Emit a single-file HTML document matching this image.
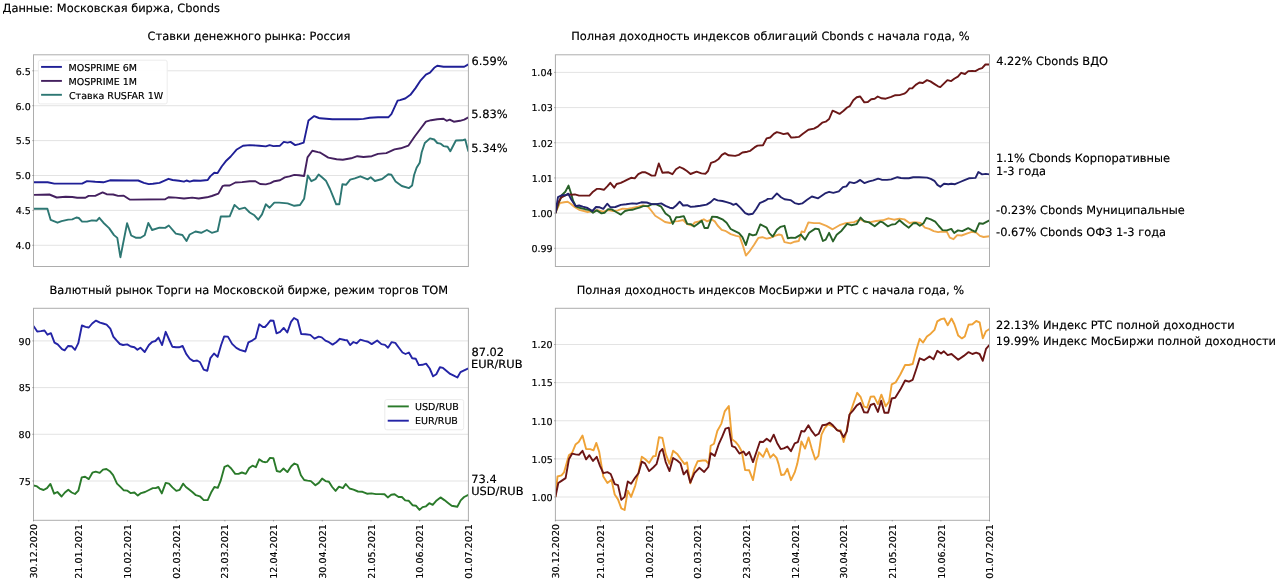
<!DOCTYPE html>
<html><head><meta charset="utf-8"><style>
html,body{margin:0;padding:0;background:#fff;}
svg{display:block;font-family:'DejaVu Sans', 'Liberation Sans', sans-serif;text-rendering:geometricPrecision;} text{stroke:none;}
</style></head><body>
<svg width="1280" height="580" viewBox="0 0 1280 580">
<defs><clipPath id="cTL"><rect x="33.5" y="54.8" width="434.90" height="211.70"/></clipPath><clipPath id="cTR"><rect x="555.4" y="54.8" width="434.10" height="211.70"/></clipPath><clipPath id="cBL"><rect x="33.5" y="308.3" width="434.90" height="212.00"/></clipPath><clipPath id="cBR"><rect x="555.4" y="308.3" width="434.10" height="212.00"/></clipPath><filter id="bold" x="0" y="0" width="1280" height="580" filterUnits="userSpaceOnUse" color-interpolation-filters="sRGB"><feComponentTransfer><feFuncA type="gamma" amplitude="1" exponent="0.7" offset="0"/></feComponentTransfer></filter></defs>
<rect width="1280" height="580" fill="#fff"/>
<line x1="33.5" y1="245.30" x2="468.4" y2="245.30" stroke="#e2e2e2" stroke-width="0.95"/>
<line x1="33.5" y1="210.40" x2="468.4" y2="210.40" stroke="#e2e2e2" stroke-width="0.95"/>
<line x1="33.5" y1="175.50" x2="468.4" y2="175.50" stroke="#e2e2e2" stroke-width="0.95"/>
<line x1="33.5" y1="140.60" x2="468.4" y2="140.60" stroke="#e2e2e2" stroke-width="0.95"/>
<line x1="33.5" y1="105.70" x2="468.4" y2="105.70" stroke="#e2e2e2" stroke-width="0.95"/>
<line x1="33.5" y1="70.80" x2="468.4" y2="70.80" stroke="#e2e2e2" stroke-width="0.95"/>
<line x1="555.4" y1="248.30" x2="989.5" y2="248.30" stroke="#e2e2e2" stroke-width="0.95"/>
<line x1="555.4" y1="213.12" x2="989.5" y2="213.12" stroke="#e2e2e2" stroke-width="0.95"/>
<line x1="555.4" y1="177.94" x2="989.5" y2="177.94" stroke="#e2e2e2" stroke-width="0.95"/>
<line x1="555.4" y1="142.76" x2="989.5" y2="142.76" stroke="#e2e2e2" stroke-width="0.95"/>
<line x1="555.4" y1="107.58" x2="989.5" y2="107.58" stroke="#e2e2e2" stroke-width="0.95"/>
<line x1="555.4" y1="72.40" x2="989.5" y2="72.40" stroke="#e2e2e2" stroke-width="0.95"/>
<line x1="33.5" y1="481.00" x2="468.4" y2="481.00" stroke="#e2e2e2" stroke-width="0.95"/>
<line x1="33.5" y1="434.30" x2="468.4" y2="434.30" stroke="#e2e2e2" stroke-width="0.95"/>
<line x1="33.5" y1="387.60" x2="468.4" y2="387.60" stroke="#e2e2e2" stroke-width="0.95"/>
<line x1="33.5" y1="340.90" x2="468.4" y2="340.90" stroke="#e2e2e2" stroke-width="0.95"/>
<line x1="555.4" y1="497.00" x2="989.5" y2="497.00" stroke="#e2e2e2" stroke-width="0.95"/>
<line x1="555.4" y1="458.87" x2="989.5" y2="458.87" stroke="#e2e2e2" stroke-width="0.95"/>
<line x1="555.4" y1="420.75" x2="989.5" y2="420.75" stroke="#e2e2e2" stroke-width="0.95"/>
<line x1="555.4" y1="382.63" x2="989.5" y2="382.63" stroke="#e2e2e2" stroke-width="0.95"/>
<line x1="555.4" y1="344.50" x2="989.5" y2="344.50" stroke="#e2e2e2" stroke-width="0.95"/>
<g clip-path="url(#cTL)">
<polyline points="33.5,182.3 47.7,182.3 54.3,183.6 82.1,183.6 87.0,181.1 95.2,181.8 103.4,182.3 110.0,180.3 130.0,180.5 138.2,180.5 143.9,182.9 148.8,184.1 152.9,183.7 159.5,182.9 168.5,178.8 172.6,180.0 179.1,180.8 184.0,181.6 186.5,180.5 189.7,181.6 193.8,180.5 200.4,180.8 207.7,180.0 210.2,176.4 214.3,172.8 217.6,173.1 221.7,166.5 225.7,161.3 230.7,156.5 236.4,149.8 243.0,145.7 249.7,145.1 259.2,145.7 265.8,146.4 269.6,145.1 273.4,146.1 280.0,145.7 283.8,141.9 287.6,142.6 290.5,141.9 295.2,145.1 299.0,144.2 303.7,142.6 308.5,120.4 314.2,116.1 318.9,118.0 320.0,118.3 332.4,119.3 344.8,119.3 357.3,119.3 363.5,118.9 369.7,117.7 378.0,117.3 388.3,117.3 391.4,114.2 397.6,100.7 400.0,100.1 405.2,98.5 410.4,94.8 415.5,88.1 420.7,80.3 425.9,74.7 430.0,72.6 434.2,67.8 437.3,65.8 443.5,66.8 453.8,66.8 464.2,66.8 468.4,64.4" fill="none" stroke="#1f1f96" stroke-width="1.9" stroke-linejoin="round" stroke-linecap="butt"/>
</g>
<g clip-path="url(#cTL)">
<polyline points="33.5,194.9 49.4,194.5 56.7,197.5 65.7,196.7 72.3,197.0 77.2,197.8 85.4,197.8 88.6,195.9 95.2,195.9 102.6,192.4 106.6,194.2 113.2,194.5 118.1,195.9 123.8,195.7 129.6,199.5 133.0,199.6 165.2,199.3 168.5,197.2 175.8,197.6 184.0,198.5 192.2,197.6 198.7,198.5 206.9,197.3 211.8,196.0 218.4,193.6 222.5,186.2 224.9,185.4 229.7,185.5 235.4,182.5 242.1,182.1 249.7,181.2 255.4,181.2 260.1,184.0 265.8,184.4 270.5,183.1 274.3,181.2 280.0,180.2 284.8,177.4 289.5,176.4 294.3,174.9 299.0,175.3 304.1,176.0 307.5,157.4 312.3,150.8 318.0,152.1 320.0,152.5 328.3,157.6 336.6,159.3 342.8,159.7 351.1,158.3 357.3,156.2 363.5,157.0 371.8,156.2 378.0,153.9 386.3,153.1 394.5,149.4 400.7,148.3 408.3,145.7 414.5,136.8 420.7,128.5 425.9,121.7 431.1,120.2 437.3,119.2 443.5,118.8 446.6,120.8 449.7,119.6 453.8,121.7 460.0,120.8 464.2,119.6 468.4,117.4" fill="none" stroke="#44205f" stroke-width="1.9" stroke-linejoin="round" stroke-linecap="butt"/>
</g>
<g clip-path="url(#cTL)">
<polyline points="33.5,208.8 47.4,208.8 50.7,219.9 57.5,222.7 61.6,221.1 68.2,219.6 72.3,219.4 76.4,217.5 78.8,218.0 82.1,221.6 87.0,221.6 91.9,220.4 96.8,220.7 99.3,217.8 103.4,222.7 109.1,228.1 114.0,235.1 117.3,237.9 120.4,257.2 127.1,223.2 131.2,235.5 135.7,237.7 140.6,237.7 144.7,235.3 148.3,223.0 152.1,230.0 159.5,227.6 165.2,227.9 168.8,225.5 175.8,233.6 182.4,235.0 186.5,241.0 189.7,234.5 195.5,231.5 201.2,232.8 206.9,230.0 211.8,232.8 217.6,231.2 220.8,216.5 226.6,216.5 229.7,216.3 234.5,204.9 239.2,209.1 244.9,207.7 249.7,212.5 254.4,215.3 258.2,219.7 262.0,214.4 265.8,204.3 269.6,207.7 274.3,202.6 279.1,202.6 287.6,203.4 294.3,205.8 300.0,205.0 304.1,198.8 307.8,175.5 311.4,181.2 315.5,179.1 318.6,174.5 321.7,177.1 325.9,180.7 330.0,189.0 333.1,196.7 336.2,204.3 339.3,204.3 342.4,184.3 346.0,184.8 350.2,179.7 354.8,178.4 360.4,176.3 367.6,179.4 370.7,177.3 374.9,181.0 382.1,179.0 388.3,174.2 391.4,174.8 395.6,181.4 401.8,186.0 409.0,188.1 412.1,185.6 414.1,175.0 416.6,167.8 419.7,162.7 421.7,152.3 424.8,143.0 430.0,138.4 434.2,139.5 437.3,143.0 440.4,143.6 443.5,146.1 447.6,146.7 450.3,151.3 455.9,140.5 462.1,140.3 465.2,139.5 468.4,151.6" fill="none" stroke="#2d7773" stroke-width="1.9" stroke-linejoin="round" stroke-linecap="butt"/>
</g>
<g clip-path="url(#cTR)">
<polyline points="555.4,213.1 559.8,203.1 564.1,202.2 567.7,201.7 570.7,203.7 574.9,207.3 579.1,209.8 584.0,211.0 587.6,212.2 592.4,211.0 597.3,210.1 603.3,211.6 608.1,210.1 613.0,211.0 617.8,210.4 622.6,208.6 627.4,208.9 632.3,208.0 638.3,206.7 643.1,205.3 648.0,206.7 651.6,211.0 655.2,215.8 660.0,218.8 665.0,222.0 670.0,223.0 674.1,221.4 678.3,221.1 683.1,220.0 687.2,224.1 692.1,225.5 694.8,222.5 699.0,221.4 703.8,219.3 707.2,221.4 711.4,219.3 714.8,221.4 717.6,225.5 721.7,229.9 725.2,230.8 730.7,234.1 736.2,235.9 739.7,236.6 743.1,246.2 745.9,255.6 749.3,251.7 754.1,244.8 758.3,237.9 762.4,237.2 766.6,238.6 770.7,237.7 774.8,235.9 779.0,234.5 781.7,235.2 784.5,242.1 790.5,243.4 794.7,241.7 798.8,241.0 801.6,231.4 804.3,232.1 808.4,222.4 814.0,223.1 819.5,223.1 826.4,225.9 832.6,229.3 839.5,225.2 845.7,223.1 854.0,222.1 860.2,219.4 865.0,221.7 870.5,222.1 876.0,221.0 882.9,220.3 888.4,218.3 894.0,219.7 899.5,218.6 904.4,219.4 909.5,223.0 914.7,222.3 920.5,223.0 924.9,227.7 929.3,228.9 933.7,231.1 938.1,232.1 942.5,231.5 946.9,231.8 949.8,237.7 953.5,239.2 957.2,235.1 961.6,235.5 967.4,233.3 971.8,231.8 976.2,232.6 979.9,235.9 983.6,237.0 989.5,236.2" fill="none" stroke="#efa84a" stroke-width="1.9" stroke-linejoin="round" stroke-linecap="butt"/>
</g>
<g clip-path="url(#cTR)">
<polyline points="555.4,213.1 558.6,203.1 562.2,194.7 565.3,191.7 568.5,185.6 570.7,192.3 573.1,200.7 576.1,206.7 580.4,208.0 585.2,209.2 589.4,210.1 593.0,212.8 596.7,210.4 601.5,213.4 604.5,212.8 608.1,209.2 611.7,209.4 616.6,212.2 620.8,214.6 625.0,211.0 628.6,210.1 632.3,209.8 635.9,208.6 639.5,207.7 643.1,206.1 648.0,206.1 651.6,204.3 656.4,204.3 661.2,206.7 665.5,213.4 669.7,216.4 672.8,223.9 676.2,217.2 679.7,217.0 683.8,216.1 687.2,223.9 690.7,224.1 694.1,226.6 697.6,224.1 701.7,220.7 704.5,228.0 707.9,228.0 712.1,216.6 716.9,217.0 722.4,219.3 726.6,222.8 730.7,229.0 733.4,230.3 739.0,233.1 742.4,237.2 745.9,245.1 749.3,233.8 752.8,235.4 756.2,234.5 760.3,224.4 766.6,227.6 769.3,233.1 772.8,236.6 776.9,229.7 780.3,226.9 784.5,225.8 787.8,238.3 791.2,237.6 795.3,237.9 800.9,234.6 805.0,239.7 809.1,232.8 815.3,228.6 818.8,229.3 822.9,241.0 825.7,239.7 829.1,232.8 833.0,241.4 836.7,234.8 841.6,230.7 847.1,223.8 851.2,225.2 856.7,224.1 860.6,217.6 864.3,221.3 869.1,222.4 874.7,226.3 880.2,221.7 882.9,222.4 887.8,226.3 891.9,224.5 895.3,224.1 899.5,220.3 904.4,224.5 908.8,227.7 913.2,223.3 916.1,223.0 919.8,225.7 923.5,223.3 926.4,217.9 930.8,219.4 935.2,221.6 938.8,226.0 942.5,230.1 946.9,230.4 951.3,228.9 954.2,233.0 957.9,230.4 962.3,231.1 968.2,228.2 971.8,230.1 975.5,231.8 979.2,223.3 982.8,223.8 986.5,221.9 989.5,220.4" fill="none" stroke="#276127" stroke-width="1.9" stroke-linejoin="round" stroke-linecap="butt"/>
</g>
<g clip-path="url(#cTR)">
<polyline points="555.4,213.1 558.0,203.1 561.0,197.7 564.7,195.6 568.3,194.4 571.9,194.7 574.9,194.4 579.1,195.6 584.0,195.6 589.4,195.6 592.4,192.3 596.7,188.9 599.7,188.9 603.9,189.8 607.5,186.2 610.3,182.8 614.2,187.7 616.6,184.0 620.8,182.8 624.4,181.1 627.4,179.6 631.1,177.8 634.7,178.4 638.3,174.1 641.9,172.3 644.9,172.1 648.6,173.9 651.6,175.6 655.2,175.6 658.8,163.5 662.4,172.7 668.5,172.3 672.4,174.2 676.0,169.2 679.7,167.0 683.3,168.6 686.9,171.0 690.5,174.0 696.6,171.6 701.4,173.4 705.6,173.7 708.0,171.0 711.0,162.9 714.7,161.7 718.3,159.3 721.9,154.9 724.9,153.2 728.6,155.3 735.2,155.9 738.8,154.9 742.4,152.5 747.3,151.7 750.3,150.8 754.5,147.4 757.5,145.6 763.0,145.3 766.6,138.4 770.2,137.5 773.8,133.9 776.8,132.1 779.9,132.9 783.5,134.1 787.8,133.2 791.2,137.6 795.3,137.3 798.8,136.9 802.9,133.7 808.4,129.7 814.0,128.6 818.1,126.3 822.2,122.7 825.7,121.7 829.1,119.0 832.6,110.7 836.0,112.1 839.5,113.9 843.6,110.7 847.1,107.5 849.8,106.1 853.3,100.3 856.7,97.3 860.2,96.5 864.3,102.4 867.8,102.0 871.2,99.2 874.7,98.7 877.7,96.5 881.6,98.3 885.7,98.7 891.2,96.9 895.3,95.2 899.5,95.1 904.3,93.7 906.6,92.0 909.5,88.4 912.3,88.2 915.7,84.9 919.4,82.5 922.8,83.0 927.0,80.1 930.4,81.4 934.2,83.9 938.0,86.3 940.3,87.1 943.6,83.9 947.4,80.1 951.2,81.1 954.6,78.5 957.9,76.6 961.2,72.8 965.0,74.0 968.3,71.1 972.1,70.9 975.4,71.1 978.7,69.2 982.1,68.1 985.4,64.5 989.5,64.5" fill="none" stroke="#6b1717" stroke-width="1.9" stroke-linejoin="round" stroke-linecap="butt"/>
</g>
<g clip-path="url(#cTR)">
<polyline points="555.4,213.1 558.0,197.1 561.6,195.3 565.3,195.3 568.3,193.7 571.3,199.5 575.5,206.1 579.1,205.5 582.8,206.7 587.6,208.0 592.4,211.0 596.0,207.0 599.7,207.3 603.3,208.9 607.2,203.7 610.5,207.3 615.4,207.0 620.8,204.9 626.2,204.3 632.3,203.4 637.1,203.7 641.3,202.3 646.8,202.5 651.6,204.1 656.4,204.1 661.2,203.4 665.5,205.8 669.7,207.7 672.8,208.3 676.2,205.5 679.7,201.7 683.1,205.5 687.2,205.2 690.7,206.9 694.8,206.5 700.3,205.8 706.6,204.6 710.7,202.1 714.1,198.9 717.6,200.4 722.4,201.0 726.6,202.1 730.7,203.4 733.4,204.8 736.2,203.7 740.3,207.6 745.2,213.1 748.6,214.5 752.8,213.8 756.2,209.0 759.7,203.2 765.2,200.7 767.9,198.9 772.1,198.6 776.9,193.4 781.0,197.2 784.5,199.3 790.5,200.1 794.7,203.1 798.8,204.2 802.2,203.4 807.1,199.7 811.9,196.5 818.1,198.3 825.0,193.4 829.1,191.8 833.3,192.8 838.8,191.4 842.9,187.2 846.4,186.3 849.6,182.1 854.0,183.1 856.7,182.1 860.2,179.9 864.3,183.1 869.1,181.3 873.3,180.3 878.1,178.6 881.6,179.7 887.1,179.9 891.2,179.4 897.4,177.2 900.9,178.0 904.4,178.3 908.8,178.3 913.2,177.3 919.1,177.3 927.1,177.6 930.8,178.8 934.4,180.8 937.4,184.9 940.3,186.8 944.0,183.7 948.4,184.2 951.3,183.7 955.0,184.2 960.1,182.0 964.5,180.2 968.9,178.3 975.5,177.9 978.4,172.0 982.1,174.4 985.8,173.9 989.5,174.4" fill="none" stroke="#22226e" stroke-width="1.9" stroke-linejoin="round" stroke-linecap="butt"/>
</g>
<g clip-path="url(#cBL)">
<polyline points="33.5,485.5 36.4,486.1 39.7,488.6 43.6,490.0 47.0,488.1 50.4,483.9 54.1,493.7 57.4,492.0 61.6,496.5 64.9,492.5 68.3,489.7 71.7,492.5 75.0,494.0 78.4,490.6 81.7,477.4 85.1,476.8 88.8,479.1 92.4,472.7 95.7,471.6 99.7,472.9 103.0,469.6 106.4,469.0 109.8,471.2 113.1,475.2 117.0,483.6 120.4,486.9 123.8,490.3 127.1,490.6 130.5,493.1 134.4,492.5 137.8,495.6 141.1,493.1 145.0,492.0 149.0,490.0 152.8,488.1 155.6,488.1 158.4,487.0 161.8,493.4 165.7,482.9 169.0,483.7 172.4,487.4 176.3,490.9 179.7,489.8 183.1,483.7 185.9,487.0 189.2,489.6 192.6,492.3 195.9,495.2 199.9,496.3 203.8,500.1 207.7,500.1 211.1,492.6 214.4,487.0 217.8,487.8 220.6,480.9 224.5,466.8 227.9,465.4 231.2,468.5 235.2,473.9 238.5,473.9 241.9,472.5 245.8,473.9 249.2,468.0 252.5,465.7 255.9,467.2 259.2,459.3 262.6,461.6 265.5,462.2 267.2,461.8 270.0,457.9 273.4,458.2 276.8,471.0 280.1,471.9 283.5,468.5 287.4,472.1 291.3,466.3 294.4,463.5 297.5,464.9 300.9,475.3 304.2,480.0 307.6,480.6 310.9,481.1 315.4,485.3 318.8,482.9 322.1,478.6 325.5,481.1 328.9,481.8 332.2,487.0 335.6,490.9 339.0,486.7 342.9,488.1 345.7,484.0 349.6,488.5 353.5,489.6 358.0,491.5 362.5,491.8 367.0,493.7 371.4,493.4 375.9,494.1 380.2,494.1 384.5,494.2 387.8,497.4 391.2,494.8 394.6,494.2 398.5,497.0 401.9,497.0 405.2,500.4 408.6,500.7 412.5,505.2 415.9,505.7 419.5,509.9 422.6,507.1 426.0,506.3 429.3,503.2 432.7,504.9 436.6,500.4 440.5,497.4 444.4,500.1 448.4,503.2 451.7,505.7 457.3,506.8 460.7,500.4 464.1,497.0 468.4,494.8" fill="none" stroke="#2a7a2a" stroke-width="1.9" stroke-linejoin="round" stroke-linecap="butt"/>
</g>
<g clip-path="url(#cBL)">
<polyline points="33.5,325.9 37.2,331.5 40.8,331.1 44.5,330.5 47.5,334.7 50.9,333.2 54.5,342.6 57.7,344.4 62.0,349.2 64.6,350.4 68.0,346.0 71.6,346.2 75.0,349.8 78.3,343.2 81.9,325.5 85.5,326.9 88.8,327.5 92.2,323.5 96.0,320.6 100.0,322.7 103.0,323.5 106.6,324.7 110.3,328.7 113.3,336.6 116.3,340.2 119.9,344.0 123.0,345.0 127.2,344.4 130.8,346.5 134.4,347.2 137.4,349.8 140.4,347.7 144.7,352.0 148.9,345.0 152.4,341.8 155.4,341.0 158.5,337.6 162.1,345.1 165.7,331.8 169.3,340.0 172.3,346.7 176.0,347.3 179.0,347.3 182.6,346.0 186.2,353.9 189.8,358.7 193.5,361.1 197.1,360.5 200.1,362.3 203.7,369.6 207.3,370.8 210.4,358.1 214.0,353.5 217.6,356.9 221.2,344.8 224.2,336.4 227.9,336.6 232.1,343.9 236.3,347.9 239.9,349.9 245.4,351.5 248.4,342.4 252.6,340.3 255.6,338.2 259.3,324.3 262.9,327.0 265.0,327.0 267.4,324.3 270.4,320.5 273.5,320.7 276.5,333.4 280.1,331.8 283.7,327.9 287.3,332.5 291.0,321.9 294.0,318.0 297.6,320.1 301.2,334.0 305.4,334.2 310.3,334.9 314.5,338.6 318.7,336.6 321.7,337.4 325.4,340.6 329.0,342.2 332.6,344.6 336.2,342.2 339.9,338.8 344.7,340.0 347.1,340.3 350.1,345.1 353.4,342.0 356.7,343.4 360.3,339.6 364.5,340.9 368.1,341.7 371.7,344.1 377.2,340.5 381.4,344.1 385.0,344.9 388.0,347.7 391.7,342.1 395.3,342.9 398.9,347.7 402.5,352.5 405.5,354.0 408.9,352.5 412.2,358.2 415.8,358.8 418.8,365.1 422.4,364.8 426.1,363.6 429.7,368.5 433.1,376.3 436.3,374.3 439.9,367.3 443.0,367.9 446.6,370.9 450.2,373.9 453.8,375.7 457.4,377.5 460.5,372.1 464.1,370.3 468.4,368.4" fill="none" stroke="#2424a6" stroke-width="1.9" stroke-linejoin="round" stroke-linecap="butt"/>
</g>
<g clip-path="url(#cBR)">
<polyline points="555.4,497.0 557.5,476.5 561.5,475.3 564.0,472.4 568.9,455.2 572.2,452.7 575.5,444.6 578.7,442.1 582.5,435.6 586.1,449.1 590.2,449.1 593.5,450.3 596.3,442.9 599.2,451.9 603.3,476.5 607.4,483.0 611.5,479.7 614.7,494.5 618.0,499.4 621.3,508.4 624.6,510.0 627.8,490.7 631.1,496.9 635.2,485.8 638.5,472.4 641.8,456.8 645.0,459.0 649.1,462.9 653.2,456.3 655.7,456.0 659.0,437.2 662.4,437.9 665.7,453.9 669.5,463.8 673.1,450.7 677.2,453.9 681.3,459.7 684.6,464.1 687.0,462.4 690.3,483.4 694.4,468.7 697.6,461.3 702.6,460.5 705.8,460.5 708.8,463.8 710.7,445.7 714.0,443.8 717.3,431.0 721.4,423.6 724.7,411.4 728.8,406.1 732.0,439.2 735.3,441.7 738.6,445.7 741.8,451.5 745.1,470.0 749.2,470.3 753.0,480.1 756.6,460.5 759.0,452.3 763.1,456.9 766.7,448.6 770.3,457.7 773.4,454.3 776.6,457.9 778.6,464.1 781.2,475.0 784.3,474.5 787.4,468.8 791.0,480.2 794.7,472.4 797.2,464.1 799.3,453.8 801.4,441.4 805.0,448.6 808.6,437.4 811.7,448.6 815.3,459.5 818.4,455.9 821.5,434.7 824.7,428.1 828.0,424.3 831.3,425.7 834.6,427.3 837.8,430.6 840.6,430.2 843.6,442.0 846.4,432.0 849.5,415.3 852.9,405.0 857.2,392.8 860.7,397.2 864.1,406.7 867.2,407.6 870.6,396.8 874.1,396.4 877.9,404.1 881.4,394.7 885.7,406.3 889.1,401.6 891.7,384.3 895.6,382.4 900.3,374.5 905.1,365.0 908.9,365.0 912.7,364.0 916.4,349.8 919.7,338.8 923.1,342.6 926.9,336.5 930.7,333.7 934.5,329.9 937.3,321.4 941.1,319.1 944.3,318.5 947.7,325.2 951.5,318.5 954.4,324.2 958.2,335.6 961.9,338.4 964.8,336.5 968.6,324.8 972.4,324.2 976.2,321.0 979.6,322.3 982.8,338.4 986.0,331.2 989.5,329.0" fill="none" stroke="#efa236" stroke-width="1.9" stroke-linejoin="round" stroke-linecap="butt"/>
</g>
<g clip-path="url(#cBR)">
<polyline points="555.4,497.0 558.3,483.0 561.5,480.9 565.6,478.1 568.9,459.3 572.2,453.6 575.5,454.4 579.2,454.7 582.5,450.8 586.1,459.3 589.4,455.2 593.0,460.9 596.7,456.8 600.0,465.8 603.3,473.2 607.4,472.1 610.7,474.0 614.7,484.2 618.0,485.1 621.3,499.9 624.6,496.9 627.8,481.4 631.1,483.8 635.2,477.6 638.5,473.2 641.8,461.7 645.0,463.4 649.1,471.1 653.2,467.5 656.5,464.2 659.8,451.9 662.5,449.0 665.7,462.1 669.5,471.1 673.1,458.0 677.2,460.5 680.5,463.4 683.7,474.4 687.0,470.3 690.3,482.6 694.4,473.2 699.3,467.8 704.2,471.9 708.3,467.0 710.7,453.1 714.8,455.9 718.9,443.8 722.2,436.7 725.5,428.6 728.8,427.7 732.0,446.1 735.3,447.4 739.4,453.6 743.5,451.5 745.9,455.2 749.2,452.0 753.0,462.1 756.6,451.5 759.9,441.7 763.1,442.0 766.7,438.8 770.3,441.6 773.7,434.7 777.1,442.9 780.7,449.1 783.8,448.4 787.4,446.6 791.0,451.2 794.7,443.4 797.8,442.2 801.4,431.0 804.5,431.6 808.4,425.3 811.7,430.9 815.4,435.8 818.7,433.8 822.3,425.3 825.9,424.8 829.7,422.7 832.9,425.3 837.0,430.2 840.3,431.4 843.6,437.1 846.8,431.4 849.5,414.5 852.9,410.6 856.8,405.4 860.3,403.1 864.1,412.3 867.6,412.6 870.6,405.0 874.1,403.7 877.9,411.9 881.2,400.7 884.4,412.8 888.3,412.8 891.7,398.5 895.2,397.7 900.3,389.6 905.1,380.5 908.9,381.7 912.7,379.8 916.4,368.8 919.7,358.3 924.0,360.2 929.7,356.4 933.5,359.3 937.3,350.8 941.1,353.6 943.9,351.3 947.7,355.1 951.5,354.0 958.2,359.7 963.8,355.9 968.6,352.1 972.4,354.0 976.2,352.7 979.6,354.0 982.8,360.8 986.0,348.9 989.5,345.0" fill="none" stroke="#6b1515" stroke-width="1.9" stroke-linejoin="round" stroke-linecap="butt"/>
</g>
<rect x="33.5" y="54.8" width="434.90" height="211.70" fill="none" stroke="#adadad" stroke-width="1"/>
<rect x="555.4" y="54.8" width="434.10" height="211.70" fill="none" stroke="#adadad" stroke-width="1"/>
<rect x="33.5" y="308.3" width="434.90" height="212.00" fill="none" stroke="#adadad" stroke-width="1"/>
<rect x="555.4" y="308.3" width="434.10" height="212.00" fill="none" stroke="#adadad" stroke-width="1"/>
<line x1="32.50" y1="245.30" x2="33.50" y2="245.30" stroke="#777" stroke-width="0.9"/>
<line x1="32.50" y1="210.40" x2="33.50" y2="210.40" stroke="#777" stroke-width="0.9"/>
<line x1="32.50" y1="175.50" x2="33.50" y2="175.50" stroke="#777" stroke-width="0.9"/>
<line x1="32.50" y1="140.60" x2="33.50" y2="140.60" stroke="#777" stroke-width="0.9"/>
<line x1="32.50" y1="105.70" x2="33.50" y2="105.70" stroke="#777" stroke-width="0.9"/>
<line x1="32.50" y1="70.80" x2="33.50" y2="70.80" stroke="#777" stroke-width="0.9"/>
<line x1="554.40" y1="248.30" x2="555.40" y2="248.30" stroke="#777" stroke-width="0.9"/>
<line x1="554.40" y1="213.12" x2="555.40" y2="213.12" stroke="#777" stroke-width="0.9"/>
<line x1="554.40" y1="177.94" x2="555.40" y2="177.94" stroke="#777" stroke-width="0.9"/>
<line x1="554.40" y1="142.76" x2="555.40" y2="142.76" stroke="#777" stroke-width="0.9"/>
<line x1="554.40" y1="107.58" x2="555.40" y2="107.58" stroke="#777" stroke-width="0.9"/>
<line x1="554.40" y1="72.40" x2="555.40" y2="72.40" stroke="#777" stroke-width="0.9"/>
<line x1="32.50" y1="481.00" x2="33.50" y2="481.00" stroke="#777" stroke-width="0.9"/>
<line x1="32.50" y1="434.30" x2="33.50" y2="434.30" stroke="#777" stroke-width="0.9"/>
<line x1="32.50" y1="387.60" x2="33.50" y2="387.60" stroke="#777" stroke-width="0.9"/>
<line x1="32.50" y1="340.90" x2="33.50" y2="340.90" stroke="#777" stroke-width="0.9"/>
<line x1="554.40" y1="497.00" x2="555.40" y2="497.00" stroke="#777" stroke-width="0.9"/>
<line x1="554.40" y1="458.87" x2="555.40" y2="458.87" stroke="#777" stroke-width="0.9"/>
<line x1="554.40" y1="420.75" x2="555.40" y2="420.75" stroke="#777" stroke-width="0.9"/>
<line x1="554.40" y1="382.63" x2="555.40" y2="382.63" stroke="#777" stroke-width="0.9"/>
<line x1="554.40" y1="344.50" x2="555.40" y2="344.50" stroke="#777" stroke-width="0.9"/>
<line x1="33.50" y1="520.30" x2="33.50" y2="521.30" stroke="#777" stroke-width="0.9"/>
<line x1="78.73" y1="520.30" x2="78.73" y2="521.30" stroke="#777" stroke-width="0.9"/>
<line x1="127.44" y1="520.30" x2="127.44" y2="521.30" stroke="#777" stroke-width="0.9"/>
<line x1="176.15" y1="520.30" x2="176.15" y2="521.30" stroke="#777" stroke-width="0.9"/>
<line x1="224.86" y1="520.30" x2="224.86" y2="521.30" stroke="#777" stroke-width="0.9"/>
<line x1="273.56" y1="520.30" x2="273.56" y2="521.30" stroke="#777" stroke-width="0.9"/>
<line x1="322.27" y1="520.30" x2="322.27" y2="521.30" stroke="#777" stroke-width="0.9"/>
<line x1="370.98" y1="520.30" x2="370.98" y2="521.30" stroke="#777" stroke-width="0.9"/>
<line x1="419.69" y1="520.30" x2="419.69" y2="521.30" stroke="#777" stroke-width="0.9"/>
<line x1="468.40" y1="520.30" x2="468.40" y2="521.30" stroke="#777" stroke-width="0.9"/>
<line x1="555.40" y1="520.30" x2="555.40" y2="521.30" stroke="#777" stroke-width="0.9"/>
<line x1="600.55" y1="520.30" x2="600.55" y2="521.30" stroke="#777" stroke-width="0.9"/>
<line x1="649.17" y1="520.30" x2="649.17" y2="521.30" stroke="#777" stroke-width="0.9"/>
<line x1="697.78" y1="520.30" x2="697.78" y2="521.30" stroke="#777" stroke-width="0.9"/>
<line x1="746.40" y1="520.30" x2="746.40" y2="521.30" stroke="#777" stroke-width="0.9"/>
<line x1="795.02" y1="520.30" x2="795.02" y2="521.30" stroke="#777" stroke-width="0.9"/>
<line x1="843.64" y1="520.30" x2="843.64" y2="521.30" stroke="#777" stroke-width="0.9"/>
<line x1="892.26" y1="520.30" x2="892.26" y2="521.30" stroke="#777" stroke-width="0.9"/>
<line x1="940.88" y1="520.30" x2="940.88" y2="521.30" stroke="#777" stroke-width="0.9"/>
<line x1="989.50" y1="520.30" x2="989.50" y2="521.30" stroke="#777" stroke-width="0.9"/>
<rect x="38.4" y="60.2" width="128.80" height="43.70" rx="2" fill="#ffffff" fill-opacity="0.95" stroke="#ececec" stroke-width="1"/>
<line x1="41.1" y1="66.9" x2="61.9" y2="66.9" stroke="#1f1f96" stroke-width="1.9"/>
<line x1="41.1" y1="80.9" x2="61.9" y2="80.9" stroke="#44205f" stroke-width="1.9"/>
<line x1="41.1" y1="94.8" x2="61.9" y2="94.8" stroke="#2d7773" stroke-width="1.9"/>
<rect x="384.8" y="399.6" width="78.90" height="30.20" rx="2" fill="#ffffff" fill-opacity="0.95" stroke="#ececec" stroke-width="1"/>
<line x1="387.7" y1="406.4" x2="408.8" y2="406.4" stroke="#2a7a2a" stroke-width="1.9"/>
<line x1="387.7" y1="420.7" x2="408.8" y2="420.7" stroke="#2424a6" stroke-width="1.9"/>
<g filter="url(#bold)">
<text x="30.72" y="249.10" font-size="9.54" fill="#000000" text-anchor="end">4.0</text>
<text x="30.91" y="214.20" font-size="9.54" fill="#000000" text-anchor="end">4.5</text>
<text x="30.72" y="179.30" font-size="9.54" fill="#000000" text-anchor="end">5.0</text>
<text x="30.91" y="144.40" font-size="9.54" fill="#000000" text-anchor="end">5.5</text>
<text x="30.72" y="109.50" font-size="9.54" fill="#000000" text-anchor="end">6.0</text>
<text x="30.91" y="74.60" font-size="9.54" fill="#000000" text-anchor="end">6.5</text>
<text x="552.68" y="252.10" font-size="9.54" fill="#000000" text-anchor="end">0.99</text>
<text x="552.64" y="216.92" font-size="9.54" fill="#000000" text-anchor="end">1.00</text>
<text x="552.87" y="181.74" font-size="9.54" fill="#000000" text-anchor="end">1.01</text>
<text x="552.97" y="146.56" font-size="9.54" fill="#000000" text-anchor="end">1.02</text>
<text x="552.78" y="111.38" font-size="9.54" fill="#000000" text-anchor="end">1.03</text>
<text x="552.54" y="76.20" font-size="9.54" fill="#000000" text-anchor="end">1.04</text>
<text x="30.93" y="484.80" font-size="9.54" fill="#000000" text-anchor="end">75</text>
<text x="30.74" y="438.10" font-size="9.54" fill="#000000" text-anchor="end">80</text>
<text x="30.93" y="391.40" font-size="9.54" fill="#000000" text-anchor="end">85</text>
<text x="30.74" y="344.70" font-size="9.54" fill="#000000" text-anchor="end">90</text>
<text x="552.64" y="500.80" font-size="9.54" fill="#000000" text-anchor="end">1.00</text>
<text x="552.83" y="462.67" font-size="9.54" fill="#000000" text-anchor="end">1.05</text>
<text x="552.64" y="424.55" font-size="9.54" fill="#000000" text-anchor="end">1.10</text>
<text x="552.83" y="386.43" font-size="9.54" fill="#000000" text-anchor="end">1.15</text>
<text x="552.64" y="348.30" font-size="9.54" fill="#000000" text-anchor="end">1.20</text>
<text transform="translate(37.13,523.93) rotate(-90)" font-size="9.54" fill="#000000" text-anchor="end">30.12.2020</text>
<text transform="translate(82.35,524.17) rotate(-90)" font-size="9.54" fill="#000000" text-anchor="end">21.01.2021</text>
<text transform="translate(131.06,524.17) rotate(-90)" font-size="9.54" fill="#000000" text-anchor="end">10.02.2021</text>
<text transform="translate(179.77,524.17) rotate(-90)" font-size="9.54" fill="#000000" text-anchor="end">02.03.2021</text>
<text transform="translate(228.48,524.17) rotate(-90)" font-size="9.54" fill="#000000" text-anchor="end">23.03.2021</text>
<text transform="translate(277.19,524.17) rotate(-90)" font-size="9.54" fill="#000000" text-anchor="end">12.04.2021</text>
<text transform="translate(325.90,524.17) rotate(-90)" font-size="9.54" fill="#000000" text-anchor="end">30.04.2021</text>
<text transform="translate(374.61,524.17) rotate(-90)" font-size="9.54" fill="#000000" text-anchor="end">21.05.2021</text>
<text transform="translate(423.32,524.17) rotate(-90)" font-size="9.54" fill="#000000" text-anchor="end">10.06.2021</text>
<text transform="translate(472.03,524.17) rotate(-90)" font-size="9.54" fill="#000000" text-anchor="end">01.07.2021</text>
<text transform="translate(559.03,523.93) rotate(-90)" font-size="9.54" fill="#000000" text-anchor="end">30.12.2020</text>
<text transform="translate(604.17,524.17) rotate(-90)" font-size="9.54" fill="#000000" text-anchor="end">21.01.2021</text>
<text transform="translate(652.79,524.17) rotate(-90)" font-size="9.54" fill="#000000" text-anchor="end">10.02.2021</text>
<text transform="translate(701.41,524.17) rotate(-90)" font-size="9.54" fill="#000000" text-anchor="end">02.03.2021</text>
<text transform="translate(750.03,524.17) rotate(-90)" font-size="9.54" fill="#000000" text-anchor="end">23.03.2021</text>
<text transform="translate(798.65,524.17) rotate(-90)" font-size="9.54" fill="#000000" text-anchor="end">12.04.2021</text>
<text transform="translate(847.27,524.17) rotate(-90)" font-size="9.54" fill="#000000" text-anchor="end">30.04.2021</text>
<text transform="translate(895.89,524.17) rotate(-90)" font-size="9.54" fill="#000000" text-anchor="end">21.05.2021</text>
<text transform="translate(944.51,524.17) rotate(-90)" font-size="9.54" fill="#000000" text-anchor="end">10.06.2021</text>
<text transform="translate(993.13,524.17) rotate(-90)" font-size="9.54" fill="#000000" text-anchor="end">01.07.2021</text>
<text x="68.55" y="70.80" font-size="9.54" fill="#000000">MOSPRIME 6M</text>
<text x="68.55" y="84.80" font-size="9.54" fill="#000000">MOSPRIME 1M</text>
<text x="68.98" y="98.70" font-size="9.54" fill="#000000">Ставка RUSFAR 1W</text>
<text x="415.09" y="409.90" font-size="9.54" fill="#000000">USD/RUB</text>
<text x="414.95" y="424.00" font-size="9.54" fill="#000000">EUR/RUB</text>
<text x="2.53" y="11.70" font-size="11.42" fill="#000000">Данные: Московская биржа, Cbonds</text>
<text x="147.58" y="40.10" font-size="11.42" fill="#000000">Ставки денежного рынка: Россия</text>
<text x="571.28" y="40.10" font-size="11.42" fill="#000000">Полная доходность индексов облигаций Cbonds с начала года, %</text>
<text x="49.56" y="293.90" font-size="11.42" fill="#000000">Валютный рынок Торги на Московской бирже, режим торгов TOM</text>
<text x="576.65" y="293.90" font-size="11.42" fill="#000000">Полная доходность индексов МосБиржи и РТС с начала года, %</text>
<text x="471.40" y="64.50" font-size="11.42" fill="#000000">6.59%</text>
<text x="471.34" y="117.60" font-size="11.42" fill="#000000">5.83%</text>
<text x="471.34" y="151.60" font-size="11.42" fill="#000000">5.34%</text>
<text x="996.23" y="65.30" font-size="11.42" fill="#000000">4.22% Cbonds ВДО</text>
<text x="995.94" y="161.50" font-size="11.42" fill="#000000">1.1% Cbonds Корпоративные</text>
<text x="995.94" y="174.75" font-size="11.42" fill="#000000">1-3 года</text>
<text x="996.03" y="213.75" font-size="11.42" fill="#000000">-0.23% Cbonds Муниципальные</text>
<text x="996.03" y="235.90" font-size="11.42" fill="#000000">-0.67% Cbonds ОФЗ 1-3 года</text>
<text x="471.40" y="355.90" font-size="11.42" fill="#000000">87.02</text>
<text x="471.06" y="368.40" font-size="11.42" fill="#000000">EUR/RUB</text>
<text x="471.29" y="482.60" font-size="11.42" fill="#000000">73.4</text>
<text x="471.23" y="495.30" font-size="11.42" fill="#000000">USD/RUB</text>
<text x="995.94" y="328.90" font-size="11.42" fill="#000000">22.13% Индекс РТС полной доходности</text>
<text x="995.84" y="344.90" font-size="11.42" fill="#000000">19.99% Индекс МосБиржи полной доходности</text>
</g>
</svg>
</body></html>
